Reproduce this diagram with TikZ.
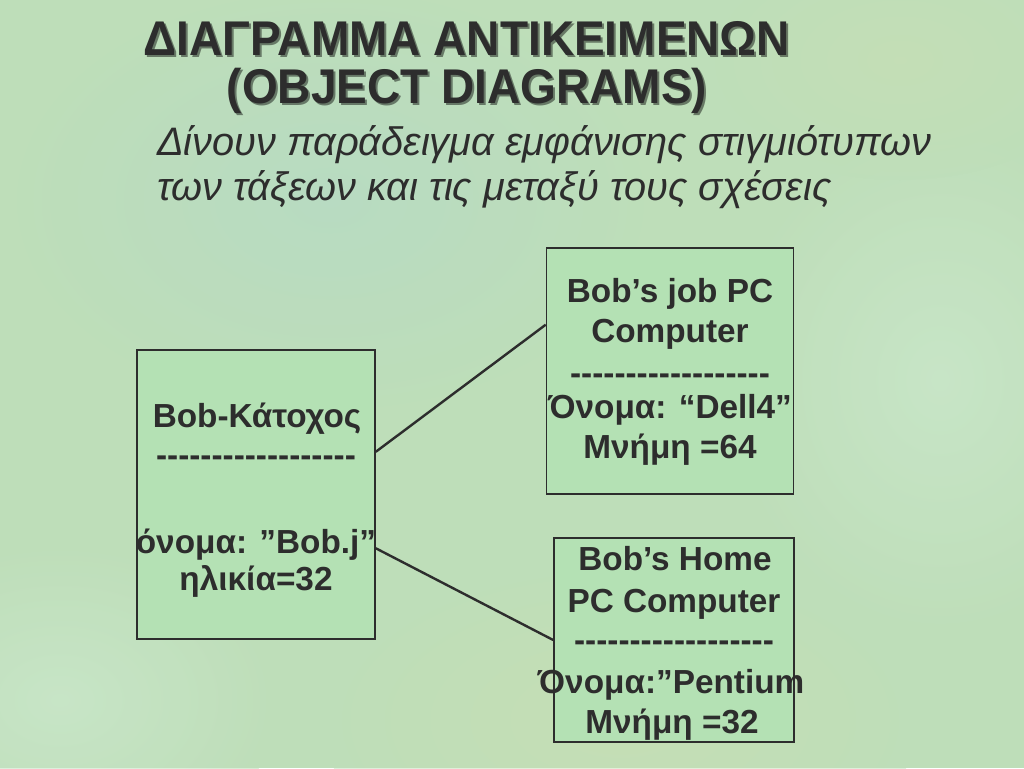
\documentclass[tikz,border=0pt]{standalone}
\usepackage{fontspec}
\setmainfont{Liberation Sans}
\usetikzlibrary{calc}
\definecolor{bgA}{RGB}{190,222,185}
\definecolor{bgB}{RGB}{180,218,200}
\definecolor{bgC}{RGB}{205,222,178}
\definecolor{bgD}{RGB}{206,234,208}
\definecolor{boxfill}{RGB}{180,225,180}
\definecolor{ink}{RGB}{45,45,45}
\newcommand{\dashrow}{\hbox{-}\hbox{-}\hbox{-}\hbox{-}\hbox{-}\hbox{-}\hbox{-}\hbox{-}\hbox{-}\hbox{-}\hbox{-}\hbox{-}\hbox{-}\hbox{-}\hbox{-}\hbox{-}\hbox{-}\hbox{-}}
\tikzset{
  objbox/.style={draw=ink, line width=1.2pt, fill=boxfill, inner sep=0pt},
  boxtxt/.style={font=\bfseries\fontsize{25}{29}\selectfont, text=ink, anchor=base, inner sep=0pt},
  link/.style={draw=ink, line width=1.8pt},
  titletxt/.style={font=\bfseries\fontsize{34.5}{40}\selectfont, anchor=base, inner sep=0pt, yscale=1.06},
  subtxt/.style={font=\itshape\fontsize{29.8}{34}\selectfont, text=ink, anchor=base west, inner sep=0pt}
}
\begin{document}
\begin{tikzpicture}[x=0.75pt,y=-0.75pt]
\useasboundingbox (0,0) rectangle (1024,768);
% background
\fill[bgA] (0,0) rectangle (1024,768);
\shade[inner color=bgB, outer color=bgA, opacity=0.6] (330,200) ellipse (330 and 220);
\shade[inner color=bgC, outer color=bgA, opacity=0.5] (620,720) ellipse (300 and 160);
\shade[inner color=bgD, outer color=bgA, opacity=0.6] (60,700) ellipse (220 and 160);
\shade[inner color=bgD, outer color=bgA, opacity=0.6] (940,380) ellipse (220 and 260);
\shade[inner color=bgC, outer color=bgA, opacity=0.4] (900,60) ellipse (200 and 120);

% title
\node[titletxt, text=black, opacity=0.45] (t1s) at (469,57) {ΔΙΑΓΡΑΜΜΑ ΑΝΤΙΚΕΙΜΕΝΩΝ};
\node[titletxt, text=ink] (t1) at (467,55) {ΔΙΑΓΡΑΜΜΑ ΑΝΤΙΚΕΙΜΕΝΩΝ};
\node[titletxt, text=black, opacity=0.45] (t2s) at (469,105) {(OBJECT DIAGRAMS)};
\node[titletxt, text=ink] (t2) at (467,103) {(OBJECT DIAGRAMS)};

% subtitle
\node[subtxt] (s1) at (157,155) {Δίνουν παράδειγμα εμφάνισης στιγμιότυπων};
\node[subtxt] (s2) at (157,200) {των τάξεων και τις μεταξύ τους σχέσεις};

% boxes
\node[objbox, minimum width=238*0.75pt, minimum height=289*0.75pt] (L) at (256,494.5) {};
\node[objbox, minimum width=247*0.75pt, minimum height=246*0.75pt] (R1) at (670,371) {};
\node[objbox, minimum width=240*0.75pt, minimum height=204*0.75pt] (R2) at (674,640) {};

% left box text
\node[boxtxt] (l1) at (257,427) {Bob-Κάτοχος};
\node[boxtxt] (l2) at (256,466) {\dashrow};
\node[boxtxt] (l3) at (256,553) {όνομα: ”Bob.j”};
\node[boxtxt] (l4) at (256,590) {ηλικία=32};

% right box 1 text
\node[boxtxt] (a1) at (670,302) {Bob’s job PC};
\node[boxtxt] (a2) at (670,342) {Computer};
\node[boxtxt] (a3) at (670,384) {\dashrow};
\node[boxtxt] (a4) at (670,418) {Όνομα: “Dell4”};
\node[boxtxt] (a5) at (670,458) {Μνήμη =64};

% right box 2 text
\node[boxtxt] (b1) at (675,570) {Bob’s Home};
\node[boxtxt] (b2) at (674,612) {PC Computer};
\node[boxtxt] (b3) at (674,651) {\dashrow};
\node[boxtxt] (b4) at (671,693) {Όνομα:”Pentium};
\node[boxtxt] (b5) at (672,733) {Μνήμη =32};

% links
\draw[link] ($(L.north east)!0.353!(L.south east)$) -- ($(R1.north west)!0.313!(R1.south west)$);
\draw[link] ($(L.north east)!0.685!(L.south east)$) -- (R2.west);
\end{tikzpicture}
\end{document}
